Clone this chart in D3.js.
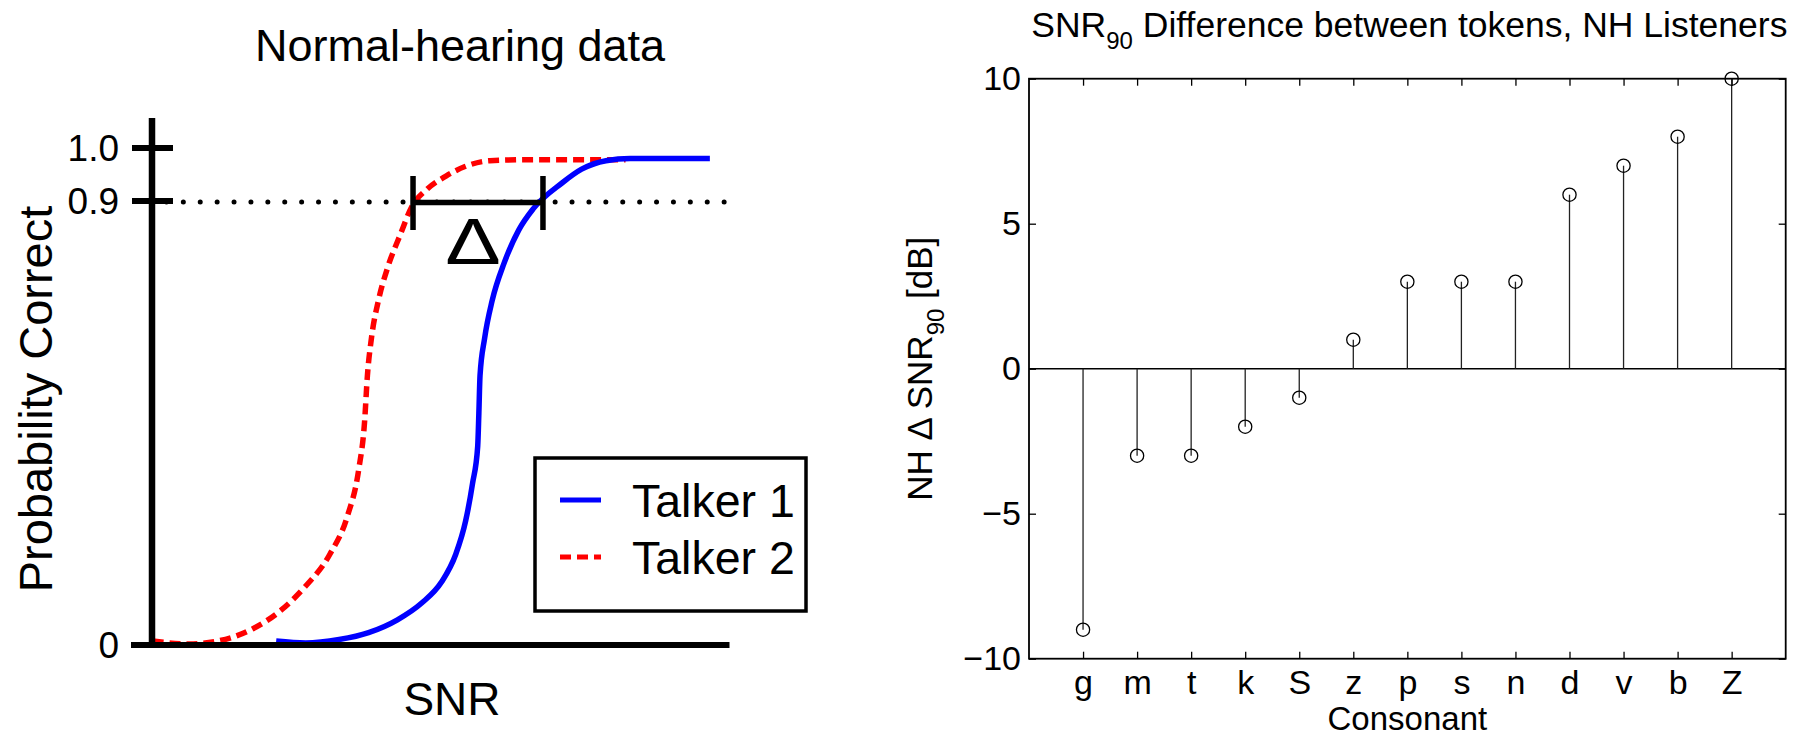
<!DOCTYPE html>
<html><head><meta charset="utf-8">
<script src="https://cdn.jsdelivr.net/npm/d3@7"></script>
<style>
body{margin:0;background:#fff}
svg{display:block}
text{font-family:"Liberation Sans",Arial,Helvetica,sans-serif;fill:#000}
</style>
</head><body>
<svg id="c" width="1809" height="736"></svg>
<script>
// ---------- Left panel (schematic psychometric curves) ----------
const talker1SNR = [21.5,26.6,32.4,37.5,42.5,46.7,50.1,52.6,54.3,55.5,56.4,56.6,56.8,57.6,58.9,61.0,63.5,66.0,71.0,74.4,78.6,82.8,96.6];
const talker1P   = [0.008,0.004,0.011,0.025,0.051,0.085,0.127,0.184,0.251,0.327,0.403,0.47,0.546,0.622,0.698,0.775,0.841,0.884,0.934,0.96,0.976,0.98,0.98];
const talker2SNR = [0.1,6.4,11.4,17.3,22.4,26.5,30.8,33.8,35.8,36.8,37.3,38.0,39.2,40.8,43.0,45.0,47.5,50.9,54.2,58.5,66.0,76.9,82.0];
const talker2P   = [0.008,0.002,0.008,0.032,0.071,0.118,0.184,0.26,0.356,0.451,0.546,0.622,0.698,0.765,0.832,0.889,0.921,0.947,0.965,0.976,0.978,0.978,0.978];
const leftTickValues = [0, 0.9, 1.0];
const leftTickLabels = ["0", "0.9", "1.0"];
const threshold = 0.9;
const deltaSNR = [45.2, 67.7];
const legendLabels = ["Talker 1", "Talker 2"];

// ---------- Right panel (stem plot) ----------
const categories = ["g","m","t","k","S","z","p","s","n","d","v","b","Z"];
const deltaSNR90 = [-9,-3,-3,-2,-1,1,3,3,3,6,7,8,10];
const rightYTicks = [-10,-5,0,5,10];

const svg = d3.select("#c");

// ===== Left panel =====
const xL = d3.scaleLinear().domain([0,100]).range([152,729.5]);
const yL = d3.scaleLinear().domain([0,0.9,1.0]).range([645,201,148]);
const gL = svg.append("g");

// title
gL.append("text").attr("x",460).attr("y",61).attr("text-anchor","middle")
  .style("font-size","45px").text("Normal-hearing data");
// x label
gL.append("text").attr("x",452).attr("y",715).attr("text-anchor","middle")
  .style("font-size","46px").text("SNR");
// y label
gL.append("text").attr("transform","translate(52,399) rotate(-90)").attr("text-anchor","middle")
  .style("font-size","47px").text("Probability Correct");

// dotted threshold line
gL.append("line").attr("x1",xL(2.5)).attr("x2",xL(100)).attr("y1",yL(threshold)+1).attr("y2",yL(threshold)+1)
  .attr("stroke","#000").attr("stroke-width",5).attr("stroke-linecap","round")
  .attr("stroke-dasharray","0,16.9");

// curves
const line = d3.line().x(d=>xL(d[0])).y(d=>yL(d[1])).curve(d3.curveMonotoneX);
gL.append("path").datum(d3.zip(talker2SNR,talker2P)).attr("d",line)
  .attr("fill","none").attr("stroke","#ff0000").attr("stroke-width",5.5).attr("stroke-dasharray","11,6");
gL.append("path").datum(d3.zip(talker1SNR,talker1P)).attr("d",line)
  .attr("fill","none").attr("stroke","#0000ff").attr("stroke-width",5.5);

// axes (thick schematic axes)
gL.append("line").attr("x1",xL(0)).attr("x2",xL(0)).attr("y1",118).attr("y2",yL(0)+3)
  .attr("stroke","#000").attr("stroke-width",6.5);
gL.append("line").attr("x1",131).attr("x2",xL(100)).attr("y1",yL(0)).attr("y2",yL(0))
  .attr("stroke","#000").attr("stroke-width",6);
leftTickValues.forEach((v,i)=>{
  if(v>0){
    gL.append("line").attr("x1",132).attr("x2",173).attr("y1",yL(v)).attr("y2",yL(v))
      .attr("stroke","#000").attr("stroke-width",6);
  }
  gL.append("text").attr("x",119).attr("y",yL(v)+13).attr("text-anchor","end")
    .style("font-size","37px").text(leftTickLabels[i]);
});

// delta bracket
const by = yL(threshold)+1.5;
gL.append("line").attr("x1",xL(deltaSNR[0])).attr("x2",xL(deltaSNR[1])).attr("y1",by).attr("y2",by)
  .attr("stroke","#000").attr("stroke-width",5.5);
deltaSNR.forEach(s=>{
  gL.append("line").attr("x1",xL(s)).attr("x2",xL(s)).attr("y1",176).attr("y2",230)
    .attr("stroke","#000").attr("stroke-width",5.5);
});
const dmid = (xL(deltaSNR[0])+xL(deltaSNR[1]))/2 - 5;
gL.append("text").attr("transform",`translate(${dmid},264) scale(1.3,1)`).attr("text-anchor","middle")
  .style("font-size","64px").text("\u0394");

// legend
const lg = gL.append("g");
lg.append("rect").attr("x",535).attr("y",458).attr("width",271).attr("height",153)
  .attr("fill","#fff").attr("stroke","#000").attr("stroke-width",3.5);
const legColors = ["#0000ff","#ff0000"], legDash = [null,"11,6"], legY = [500,557];
legendLabels.forEach((t,i)=>{
  lg.append("line").attr("x1",560).attr("x2",601).attr("y1",legY[i]).attr("y2",legY[i])
    .attr("stroke",legColors[i]).attr("stroke-width",5).attr("stroke-dasharray",legDash[i]);
  lg.append("text").attr("x",632).attr("y",legY[i]+17).style("font-size","46.5px").text(t);
});

// ===== Right panel =====
const xR = d3.scaleLinear().domain([0,14]).range([1029,1785.7]);
const yR = d3.scaleLinear().domain([-10,10]).range([658.7,78.7]);
const gR = svg.append("g");
const FONT_R = 34;
const idx = d3.range(1, categories.length+1);

// title with subscript
const tt = gR.append("text").attr("x",(xR(0)+xR(14))/2+2).attr("y",37).attr("text-anchor","middle")
  .style("font-size","35.5px");
tt.append("tspan").text("SNR");
tt.append("tspan").attr("dy",12).style("font-size","24px").text("90");
tt.append("tspan").attr("dy",-12).text(" Difference between tokens, NH Listeners");

// y label with subscript
const yl = gR.append("text").attr("transform",`translate(932,${yR(0)}) rotate(-90)`).attr("text-anchor","middle")
  .style("font-size","35px");
yl.append("tspan").text("NH \u0394 SNR");
yl.append("tspan").attr("dy",12).style("font-size","24px").text("90");
yl.append("tspan").attr("dy",-12).text(" [dB]");

// x label
gR.append("text").attr("x",(xR(0)+xR(14))/2).attr("y",730).attr("text-anchor","middle")
  .style("font-size","33px").text("Consonant");

// axes
const axB = d3.axisBottom(xR).tickValues(idx).tickFormat((d,i)=>categories[i]).tickSizeInner(-7).tickSizeOuter(0).tickPadding(11);
const axL = d3.axisLeft(yR).tickValues(rightYTicks).tickFormat(d3.format("d")).tickSizeInner(-7).tickSizeOuter(0).tickPadding(8);
const axT = d3.axisTop(xR).tickValues(idx).tickFormat("").tickSizeInner(-7).tickSizeOuter(0);
const axRt = d3.axisRight(yR).tickValues(rightYTicks).tickFormat("").tickSizeInner(-7).tickSizeOuter(0);
function styleAxis(g){
  g.select(".domain").remove();
  g.selectAll(".tick line").attr("stroke","#000").attr("stroke-width",1.3);
  g.selectAll(".tick text").style("font-size",FONT_R+"px").style("font-family",'"Liberation Sans",Arial,Helvetica,sans-serif').attr("fill","#000");
}
gR.append("g").attr("transform",`translate(0,${yR(-10)})`).call(axB).call(styleAxis);
gR.append("g").attr("transform",`translate(0,${yR(10)})`).call(axT).call(styleAxis);
gR.append("g").attr("transform",`translate(${xR(14)},0)`).call(axRt).call(styleAxis);
gR.append("g").attr("transform",`translate(${xR(0)},0)`).call(axL).call(styleAxis);

// baseline
gR.append("line").attr("x1",xR(0)).attr("x2",xR(14)).attr("y1",yR(0)).attr("y2",yR(0))
  .attr("stroke","#000").attr("stroke-width",1.4);
// stems
gR.selectAll("line.stem").data(deltaSNR90).enter().append("line").attr("class","stem")
  .attr("x1",(d,i)=>xR(i+1)).attr("x2",(d,i)=>xR(i+1))
  .attr("y1",yR(0)).attr("y2",d=>yR(d))
  .attr("stroke","#222").attr("stroke-width",1.3);
gR.selectAll("circle.mk").data(deltaSNR90).enter().append("circle").attr("class","mk")
  .attr("cx",(d,i)=>xR(i+1)).attr("cy",d=>yR(d)).attr("r",6.6)
  .attr("fill","none").attr("stroke","#000").attr("stroke-width",1.3);

// box
gR.append("rect").attr("x",xR(0)).attr("y",yR(10)).attr("width",xR(14)-xR(0)).attr("height",yR(-10)-yR(10))
  .attr("fill","none").attr("stroke","#000").attr("stroke-width",1.8);
</script>
</body></html>
